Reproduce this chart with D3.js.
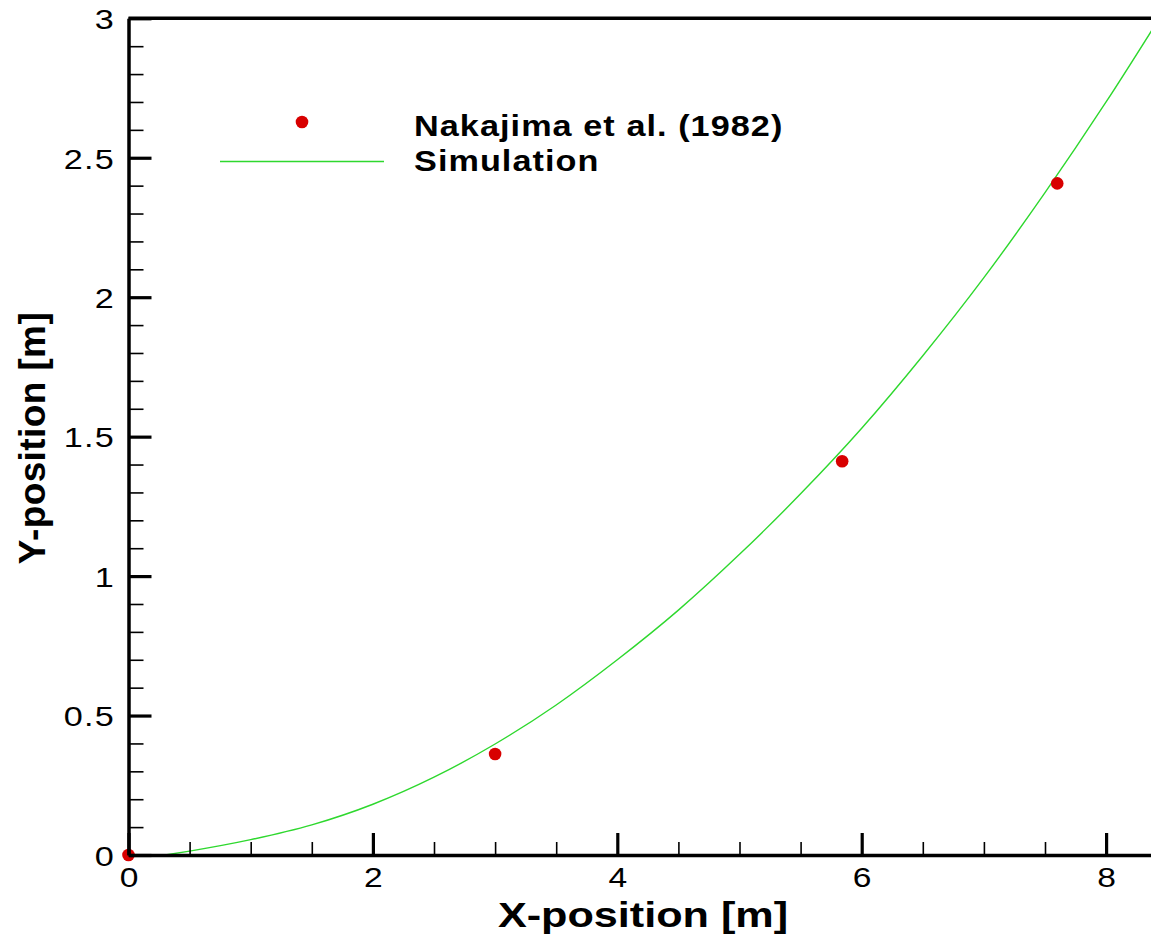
<!DOCTYPE html>
<html>
<head>
<meta charset="utf-8">
<script src="https://cdn.jsdelivr.net/npm/d3@7"></script>
<style>
  html, body { margin: 0; padding: 0; background: #fff; overflow: hidden; }
  svg { display: block; }
  text { font-family: "Liberation Sans", Arial, Helvetica, sans-serif; fill: #000; }
</style>
</head>
<body>
<svg id="chart" width="1151" height="934"></svg>
<script>
// ---- data ----
const expX = [0, 3.0, 5.84, 7.6];
const expY = [0, 0.362, 1.412, 2.408];

const simX = [0.3, 0.5, 1.0, 1.5, 2.0, 2.5, 3.0, 3.5, 4.0, 4.5, 5.0, 5.5, 6.0, 6.5, 7.0, 7.5, 8.0, 8.5];
const simY = [0.0, 0.014, 0.055, 0.108, 0.182, 0.279, 0.398, 0.538, 0.700, 0.878, 1.078, 1.295, 1.530, 1.790, 2.070, 2.375, 2.700, 3.045];

const xTickValues = [0, 2, 4, 6, 8];
const xTickLabels = ["0", "2", "4", "6", "8"];
const yTickValues = [0, 0.5, 1, 1.5, 2, 2.5, 3];
const yTickLabels = ["0", "0.5", "1", "1.5", "2", "2.5", "3"];

const legendLabels = ["Nakajima et al. (1982)", "Simulation"];
const xTitle = "X-position [m]";
const yTitle = "Y-position [m]";

(function () {
// ---- layout ----
const svg = d3.select("#chart");
const padLeft = 128.5, padBottom = 855, padTop = 18.3;
const unitX = 122.2;
const xMax = 8.6;
const x = d3.scaleLinear().domain([0, xMax]).range([padLeft, padLeft + xMax * unitX]);
const y = d3.scaleLinear().domain([0, 3]).range([padBottom, padTop]);

const red = "#d80000";
const green = "#2ed82e";
const stretch = 1.2;

// clip
svg.append("defs").append("clipPath").attr("id", "plotclip")
  .append("rect").attr("x", x(0)).attr("y", y(3))
  .attr("width", x(xMax) - x(0)).attr("height", y(0) - y(3));

// simulation curve
const simData = simX.map((d, i) => [d, simY[i]]);
svg.append("path")
  .datum(simData)
  .attr("clip-path", "url(#plotclip)")
  .attr("fill", "none")
  .attr("stroke", green)
  .attr("stroke-width", 1.4)
  .attr("d", d3.line().x(d => x(d[0])).y(d => y(d[1])).curve(d3.curveMonotoneX));

// experiment points
svg.append("g").selectAll("circle")
  .data(expX.map((d, i) => [d, expY[i]]))
  .join("circle")
  .attr("cx", d => x(d[0]))
  .attr("cy", d => y(d[1]))
  .attr("r", 6.3)
  .attr("fill", red);

// minor ticks
const xMinor = d3.range(0, xMax + 0.001, 0.5).filter(v => Math.abs(v % 2) > 1e-6);
const yMinor = d3.range(0, 3.0001, 0.1).filter(v => Math.abs(Math.round(v * 10) % 5) > 0);

const gxMinor = svg.append("g").attr("transform", `translate(0,${padBottom})`)
  .call(d3.axisBottom(x).tickValues(xMinor).tickSize(-13).tickSizeOuter(0).tickFormat(""));
gxMinor.select(".domain").remove();
gxMinor.selectAll(".tick line").attr("stroke", "#000").attr("stroke-width", 1.6);

const gyMinor = svg.append("g").attr("transform", `translate(${padLeft},0)`)
  .call(d3.axisLeft(y).tickValues(yMinor).tickSize(-15).tickSizeOuter(0).tickFormat(""));
gyMinor.select(".domain").remove();
gyMinor.selectAll(".tick line").attr("stroke", "#000").attr("stroke-width", 1.6);

// major axes
const gx = svg.append("g").attr("transform", `translate(0,${padBottom})`)
  .call(d3.axisBottom(x).tickValues(xTickValues).tickSize(-22).tickSizeOuter(0)
        .tickFormat((d, i) => xTickLabels[i]));
gx.select(".domain").attr("stroke", "#000").attr("stroke-width", 3.5);
gx.selectAll(".tick line").attr("stroke", "#000").attr("stroke-width", 3.2);
gx.selectAll(".tick text")
  .attr("font-size", 28).attr("fill", "#000")
  .attr("text-anchor", "middle")
  .attr("y", 32.5).attr("dy", 0)
  .attr("transform", `scale(${stretch},1)`);

const gy = svg.append("g").attr("transform", `translate(${padLeft},0)`)
  .call(d3.axisLeft(y).tickValues(yTickValues).tickSize(-23).tickSizeOuter(0)
        .tickFormat((d, i) => yTickLabels[i]));
gy.select(".domain").attr("stroke", "#000").attr("stroke-width", 3.5);
gy.selectAll(".tick line").attr("stroke", "#000").attr("stroke-width", 3.2);
gy.selectAll(".tick text")
  .attr("font-size", 28.5).attr("fill", "#000")
  .attr("text-anchor", "end")
  .attr("x", -13.5 / stretch).attr("dy", "0.36em")
  .attr("letter-spacing", 1)
  .attr("transform", `scale(${stretch},1)`);

// top border
svg.append("line")
  .attr("x1", x(0)).attr("x2", x(xMax))
  .attr("y1", y(3)).attr("y2", y(3))
  .attr("stroke", "#000").attr("stroke-width", 3.5);

// axis titles
svg.append("text")
  .attr("transform", `translate(643,926.5) scale(${stretch},1)`)
  .attr("text-anchor", "middle")
  .attr("font-size", 36).attr("font-weight", "bold")
  .text(xTitle);

svg.append("text")
  .attr("transform", "translate(45,438) rotate(-90)")
  .attr("text-anchor", "middle")
  .attr("font-size", 37).attr("font-weight", "bold")
  .attr("letter-spacing", 0.4)
  .text(yTitle);

// legend
const lg = svg.append("g");
lg.append("circle").attr("cx", 302).attr("cy", 122).attr("r", 6.3).attr("fill", red);
lg.append("line").attr("x1", 220).attr("x2", 384).attr("y1", 161.5).attr("y2", 161.5)
  .attr("stroke", green).attr("stroke-width", 1.6);
lg.append("text")
  .attr("transform", `translate(414,135.5) scale(1.18,1)`)
  .attr("font-size", 29).attr("font-weight", "bold")
  .attr("letter-spacing", 0.9)
  .text(legendLabels[0]);
lg.append("text")
  .attr("transform", `translate(414,170.5) scale(1.18,1)`)
  .attr("font-size", 29).attr("font-weight", "bold")
  .attr("letter-spacing", 0.9)
  .text(legendLabels[1]);
})();
</script>
</body>
</html>
